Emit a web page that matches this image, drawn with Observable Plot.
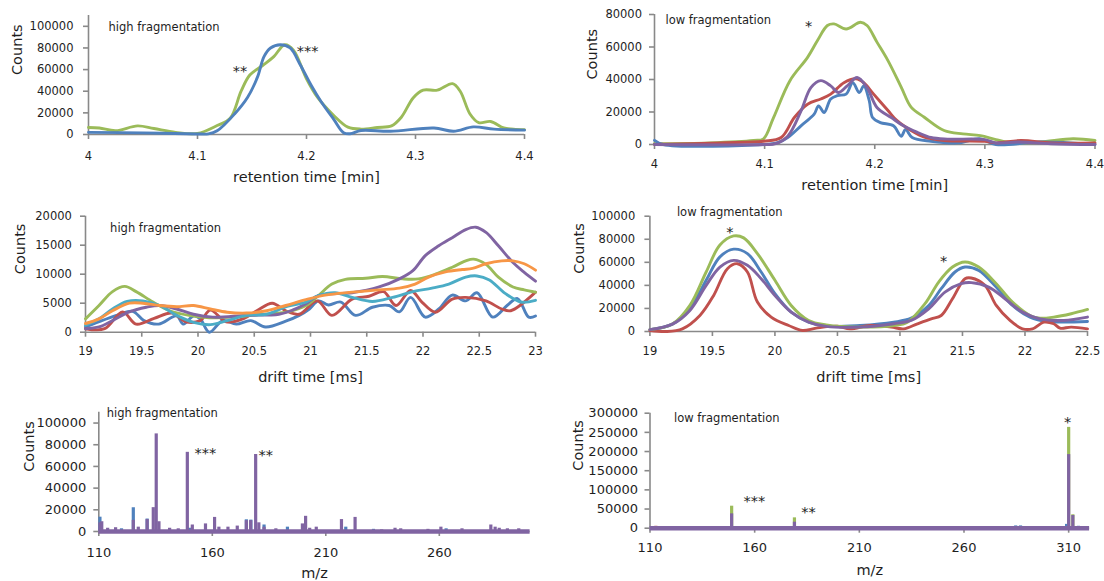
<!DOCTYPE html>
<html><head><meta charset="utf-8">
<script src="https://cdn.jsdelivr.net/npm/d3@7"></script>
<script src="https://cdn.jsdelivr.net/npm/@observablehq/plot@0.6"></script>
<style>
html,body{margin:0;padding:0;background:#fff;}
#root{position:relative;width:1104px;height:581px;overflow:hidden;font-family:"DejaVu Sans",Verdana,sans-serif;}
</style></head><body><div id="root"></div>
<script>
// ---------- data: retention time, high fragmentation ----------
const rtHighGreen = [[4.000,6500],[4.010,6000],[4.025,3500],[4.045,8000],[4.060,5500],[4.080,2000],[4.100,1000],[4.118,8300],[4.130,15000],[4.140,40000],[4.148,55000],[4.160,64000],[4.170,72000],[4.180,83000],[4.188,78000],[4.200,51500],[4.210,34500],[4.225,17600],[4.238,6800],[4.250,5000],[4.265,6500],[4.278,8000],[4.287,16000],[4.298,34000],[4.307,41000],[4.320,41000],[4.334,47000],[4.341,40000],[4.350,19000],[4.358,11000],[4.369,12000],[4.381,6000],[4.390,5000],[4.400,4500]];
const rtHighBlue = [[4.000,2000],[4.050,1500],[4.100,500],[4.110,600],[4.118,3400],[4.134,19000],[4.146,34500],[4.155,53000],[4.161,72000],[4.167,80000],[4.176,83000],[4.185,80000],[4.194,65000],[4.204,46000],[4.213,31000],[4.225,14000],[4.234,1700],[4.240,700],[4.250,3700],[4.277,3000],[4.317,6000],[4.335,3000],[4.353,7000],[4.372,5000],[4.400,4000]];
// ---------- data: retention time, low fragmentation ----------
const rtLowGreen = [[4.000,500],[4.050,1000],[4.090,2500],[4.099,3500],[4.108,16400],[4.123,39300],[4.139,53600],[4.148,64000],[4.157,73200],[4.163,74200],[4.174,71100],[4.187,75200],[4.193,73200],[4.202,63000],[4.212,51600],[4.224,35300],[4.233,23000],[4.245,16800],[4.263,8600],[4.280,6500],[4.296,5500],[4.310,3000],[4.325,1000],[4.350,1500],[4.380,3500],[4.400,2500]];
const rtLowBlue = [[4.000,2600],[4.008,0],[4.100,0],[4.112,1200],[4.121,4300],[4.133,11500],[4.145,18700],[4.149,23800],[4.154,19700],[4.160,28000],[4.166,30100],[4.174,31000],[4.180,38000],[4.186,32000],[4.190,36100],[4.195,27000],[4.198,16600],[4.205,13500],[4.217,11500],[4.224,5100],[4.228,9200],[4.234,4300],[4.251,2000],[4.276,1000],[4.295,3500],[4.310,0],[4.350,1500],[4.400,0]];
const rtLowRed = [[4.000,0],[4.060,1000],[4.099,2000],[4.115,4300],[4.127,16600],[4.139,24800],[4.151,28000],[4.160,31000],[4.172,38000],[4.183,40400],[4.190,38000],[4.199,31000],[4.212,20900],[4.220,14800],[4.233,8600],[4.245,4500],[4.263,2500],[4.300,2000],[4.310,1000],[4.333,2500],[4.360,1000],[4.400,1000]];
const rtLowPurple = [[4.000,0],[4.100,0],[4.110,500],[4.121,5100],[4.133,20500],[4.142,35000],[4.151,39300],[4.160,36100],[4.167,32000],[4.175,36100],[4.184,41200],[4.193,35000],[4.202,22800],[4.215,16600],[4.226,11500],[4.239,7400],[4.251,4300],[4.266,3300],[4.300,3000],[4.310,1000],[4.330,1500],[4.360,500],[4.400,0]];
// ---------- data: drift time, high fragmentation ----------
const dtHighBlue = [[19.00,900],[19.29,3000],[19.42,3600],[19.52,2000],[19.65,1400],[19.81,2800],[19.87,1400],[19.96,2800],[20.02,2300],[20.10,0],[20.22,2000],[20.34,1400],[20.47,2000],[20.60,900],[20.78,1900],[20.90,2900],[20.99,4000],[21.07,5400],[21.16,4700],[21.27,5200],[21.40,2900],[21.55,4300],[21.70,4600],[21.79,3500],[21.89,6000],[22.02,2600],[22.14,4000],[22.26,6400],[22.38,5400],[22.48,6800],[22.62,2600],[22.75,4650],[22.84,5800],[22.94,2600],[23.00,2800]];
const dtHighRed = [[19.00,600],[19.17,600],[19.33,3500],[19.45,1400],[19.61,2400],[19.77,3300],[19.89,1800],[20.02,2000],[20.11,3800],[20.25,1800],[20.41,2400],[20.53,3800],[20.66,5000],[20.78,3700],[20.90,3100],[21.06,5400],[21.19,2900],[21.37,5700],[21.52,6200],[21.65,7000],[21.76,4600],[21.89,7200],[21.99,5200],[22.11,3450],[22.26,5700],[22.38,6000],[22.56,5400],[22.70,4000],[22.78,3700],[23.00,6900]];
const dtHighGreen = [[19.00,2300],[19.12,4600],[19.24,7000],[19.35,7900],[19.45,7000],[19.60,5200],[19.75,3700],[19.92,2900],[20.10,2500],[20.30,2600],[20.52,3000],[20.78,3450],[20.96,4600],[21.07,6300],[21.19,8300],[21.31,9100],[21.49,9300],[21.64,9600],[21.82,9200],[21.96,9200],[22.11,10000],[22.26,11200],[22.38,12300],[22.45,12600],[22.56,11700],[22.67,9500],[22.80,7800],[22.90,7300],[23.00,6900]];
const dtHighPurple = [[19.00,600],[19.12,900],[19.24,2000],[19.39,3500],[19.54,4300],[19.66,4600],[19.81,4000],[19.96,3100],[20.13,2600],[20.43,2900],[20.72,3100],[20.84,3800],[20.96,4900],[21.07,6300],[21.37,6800],[21.61,7800],[21.79,9200],[21.91,10600],[22.02,13200],[22.14,14900],[22.26,16300],[22.38,17700],[22.47,18100],[22.56,17200],[22.67,14900],[22.80,12000],[22.90,10300],[23.00,8800]];
const dtHighTeal = [[19.00,1200],[19.12,2300],[19.24,4000],[19.37,5300],[19.51,5400],[19.66,4600],[19.81,2900],[19.96,1700],[20.11,1300],[20.26,2000],[20.43,2900],[20.61,3100],[20.80,4500],[20.96,5200],[21.07,6300],[21.22,6800],[21.37,6000],[21.55,5300],[21.73,6000],[21.91,7000],[22.08,7600],[22.23,8300],[22.38,9500],[22.48,9700],[22.59,9000],[22.73,6700],[22.87,5200],[23.00,5500]];
const dtHighOrange = [[19.00,1500],[19.12,2300],[19.24,3700],[19.39,5000],[19.51,5000],[19.66,4600],[19.81,4400],[19.96,4600],[20.11,4000],[20.26,3450],[20.43,3300],[20.61,3700],[20.78,4600],[20.96,5600],[21.13,6400],[21.37,6900],[21.61,7300],[21.79,7600],[21.93,8300],[22.05,9500],[22.20,10400],[22.35,10800],[22.44,11000],[22.56,11800],[22.70,12300],[22.80,12300],[22.90,11800],[23.00,10700]];
// ---------- data: drift time, low fragmentation ----------
const dtLowBlue = [[19.00,1600],[19.18,6400],[19.32,19700],[19.45,44400],[19.56,64700],[19.67,71400],[19.78,67600],[19.89,51600],[20.00,32800],[20.13,16800],[20.27,8100],[20.41,4600],[20.68,5200],[20.95,8100],[21.09,11600],[21.23,22600],[21.33,37100],[21.44,51600],[21.52,55900],[21.63,53000],[21.77,38500],[21.90,22600],[22.04,12500],[22.18,8700],[22.50,8700]];
const dtLowRed = [[19.00,900],[19.13,0],[19.26,2300],[19.40,13900],[19.51,31300],[19.62,54500],[19.70,58800],[19.78,51600],[19.86,25500],[19.97,12500],[20.11,5200],[20.22,900],[20.33,2900],[20.50,4600],[20.60,2300],[20.76,5200],[20.93,3800],[21.03,2300],[21.14,6700],[21.25,11000],[21.33,13900],[21.42,28400],[21.52,45800],[21.57,46400],[21.68,40000],[21.77,22600],[21.88,9600],[21.98,2300],[22.06,2300],[22.15,8100],[22.23,6700],[22.28,2900],[22.37,3800],[22.50,2300]];
const dtLowGreen = [[19.00,1600],[19.18,6400],[19.32,22600],[19.45,51600],[19.56,75000],[19.67,82900],[19.75,81200],[19.86,67600],[20.00,44400],[20.13,22600],[20.27,9600],[20.41,5800],[20.68,3800],[20.95,5200],[21.06,8100],[21.20,24100],[21.31,42900],[21.42,55900],[21.52,60300],[21.63,55900],[21.77,41500],[21.90,25500],[22.04,13900],[22.12,11600],[22.23,12500],[22.37,15400],[22.50,19100]];
const dtLowPurple = [[19.00,1600],[19.18,6400],[19.32,18300],[19.45,40000],[19.56,55900],[19.67,61700],[19.78,57400],[19.89,45800],[20.00,31300],[20.13,16800],[20.27,8100],[20.41,4400],[20.68,3800],[20.95,6700],[21.09,9600],[21.23,19700],[21.36,34200],[21.49,41500],[21.57,42400],[21.71,38500],[21.84,28400],[21.98,16800],[22.12,11000],[22.31,9600],[22.50,12500]];
// ---------- data: mass spectra (m/z, counts) ----------
const msHighBlue = [[110.5,13200],[120.0,2500],[125.2,21900],[131.3,11500],[150.0,3000],[175.0,10800],[177.0,10500],[182.8,6000],[193.1,4000],[218.8,4000],[231.0,2000],[263.0,2500]];
const msHighPurple = [[110.5,8000],[111.3,9000],[113.9,3000],[117.4,3500],[125.2,10300],[127.4,4000],[131.3,11000],[134.0,22000],[135.3,90000],[136.5,9000],[141.2,3000],[145.0,2500],[149.0,73000],[151.2,6000],[157.0,7000],[161.0,13000],[162.9,4000],[166.9,4000],[171.0,5000],[175.0,10000],[176.9,10000],[179.1,71000],[180.5,8000],[182.8,4000],[188.0,2500],[199.7,7000],[201.1,14000],[202.9,3000],[205.8,4000],[216.9,11000],[222.9,13000],[234.6,1500],[240.5,3000],[243.0,2500],[255.0,2000],[260.7,4000],[270.0,2500],[282.7,6000],[284.6,4000],[286.4,3000],[290.0,2500],[295.0,2500]];
const msLowGreen = [[149.0,57400],[179.0,27000],[310.0,263000],[312.0,35000]];
const msLowRed = [[112.8,5000],[219.0,4000],[243.0,3000],[309.0,8000]];
const msLowBlue = [[263.0,3000],[284.7,6000],[287.0,6000],[309.0,10000],[314.7,5000]];
const msLowPurple = [[149.0,37400],[150.0,3000],[179.0,15700],[310.0,192000],[312.0,33000]];
// ---------- labels ----------
const rtTicks = [4, 4.1, 4.2, 4.3, 4.4];
const dtHighTicks = [19, 19.5, 20, 20.5, 21, 21.5, 22, 22.5, 23];
const dtLowTicks = [19, 19.5, 20, 20.5, 21, 21.5, 22, 22.5];
const mzHighTicks = [110, 160, 210, 260];
const mzLowTicks = [110, 160, 210, 260, 310];
const noteHigh = "high fragmentation", noteLow = "low fragmentation";

const AXIS = "#898989", INK = "#1e1e1e";
const C = {blue:"#4f81bd", red:"#c0504d", green:"#9bbb59", purple:"#8064a2", teal:"#4bacc6", orange:"#f79646"};

const ln = (data, color) => Plot.line(data, {x: d => d[0], y: d => d[1], stroke: color, strokeWidth: 2.9, curve: "catmull-rom", strokeLinejoin: "round"});
const sp = (data, color) => Plot.ruleX(data, {x: d => d[0], y1: 0, y2: d => d[1], stroke: color, strokeWidth: 3.2});
const star = (t, x, y) => Plot.text([t], {x: () => x, y: () => y, text: d => d, fontSize: 14.5, fill: INK, dy: 4});

function chart(p) {
  const marks = [
    Plot.ruleX([p.xDomain[0]], {stroke: AXIS, strokeWidth: 1.6}),
    Plot.ruleY([0], {stroke: AXIS, strokeWidth: 1.6}),
    Plot.axisX({ticks: p.xTicks, tickSize: 5, tickPadding: p.xPad, stroke: AXIS, strokeWidth: 1.6, fill: INK, fontSize: p.tickFont, tickFormat: d => String(d), label: null}),
    Plot.axisY({ticks: p.yTicks, tickSize: 5, tickPadding: p.yPad, stroke: AXIS, strokeWidth: 1.6, fill: INK, fontSize: p.tickFont, tickFormat: d => String(d), label: null}),
    ...p.marks,
    Plot.text([p.xTitle], {text: d => d, frameAnchor: "bottom", lineAnchor: "middle", dy: p.xTitleDy, fontSize: 14.5, fill: INK}),
    Plot.text(["Counts"], {text: d => d, frameAnchor: "left", lineAnchor: "middle", dx: p.yTitleDx, rotate: -90, fontSize: 14.5, fill: INK}),
    Plot.text([p.note], {text: d => d, frameAnchor: "top-left", lineAnchor: "middle", textAnchor: "start", dx: p.noteDx, dy: p.noteDy, fontSize: 11.5, fill: INK})
  ];
  const svg = Plot.plot({
    width: p.w, height: p.h,
    marginLeft: p.fx0 - p.left, marginRight: p.left + p.w - p.fx1,
    marginTop: p.fy0 - p.top, marginBottom: p.top + p.h - p.fy1,
    x: {domain: p.xDomain}, y: {domain: p.yDomain},
    style: {fontFamily: "'DejaVu Sans', Verdana, sans-serif", background: "transparent", overflow: "visible", color: INK},
    marks
  });
  svg.style.position = "absolute";
  svg.style.left = p.left + "px";
  svg.style.top = p.top + "px";
  document.getElementById("root").appendChild(svg);
}

chart({left: 0, top: 0, w: 550, h: 195, fx0: 88, fx1: 524, fy0: 15, fy1: 134,
  xDomain: [4, 4.4], yDomain: [0, 110000], xTicks: rtTicks, yTicks: d3.range(0, 100001, 20000),
  tickFont: 11.5, xPad: 12, yPad: 10, xTitle: "retention time [min]", xTitleDy: 43, yTitleDx: -71,
  note: noteHigh, noteDx: 20, noteDy: 12,
  marks: [ln(rtHighGreen, C.green), ln(rtHighBlue, C.blue), star("**", 4.139, 62000), star("***", 4.201, 80500)]});

chart({left: 560, top: 0, w: 544, h: 195, fx0: 654, fx1: 1094.5, fy0: 14, fy1: 144,
  xDomain: [4, 4.4], yDomain: [0, 80000], xTicks: rtTicks, yTicks: d3.range(0, 80001, 20000),
  tickFont: 11.5, xPad: 10, yPad: 7.5, xTitle: "retention time [min]", xTitleDy: 41, yTitleDx: -62,
  note: noteLow, noteDx: 11, noteDy: 6,
  marks: [ln(rtLowGreen, C.green), ln(rtLowBlue, C.blue), ln(rtLowRed, C.red), ln(rtLowPurple, C.purple), star("*", 4.14, 75300)]});

chart({left: 0, top: 195, w: 560, h: 190, fx0: 85, fx1: 535, fy0: 215.7, fy1: 331.7,
  xDomain: [19, 23], yDomain: [0, 20000], xTicks: dtHighTicks, yTicks: d3.range(0, 20001, 5000),
  tickFont: 11.5, xPad: 10, yPad: 8.6, xTitle: "drift time [ms]", xTitleDy: 45, yTitleDx: -65,
  note: noteHigh, noteDx: 24.6, noteDy: 12.3,
  marks: [ln(dtHighBlue, C.blue), ln(dtHighRed, C.red), ln(dtHighGreen, C.green), ln(dtHighPurple, C.purple), ln(dtHighTeal, C.teal), ln(dtHighOrange, C.orange)]});

chart({left: 560, top: 195, w: 544, h: 190, fx0: 649.4, fx1: 1087, fy0: 215.7, fy1: 331,
  xDomain: [19, 22.5], yDomain: [0, 100000], xTicks: dtLowTicks, yTicks: d3.range(0, 100001, 20000),
  tickFont: 11.5, xPad: 10, yPad: 9.7, xTitle: "drift time [ms]", xTitleDy: 46, yTitleDx: -71,
  note: noteLow, noteDx: 27, noteDy: -3.7,
  marks: [ln(dtLowBlue, C.blue), ln(dtLowRed, C.red), ln(dtLowGreen, C.green), ln(dtLowPurple, C.purple), star("*", 19.64, 89300), star("*", 21.35, 64400)]});

chart({left: 0, top: 385, w: 560, h: 196, fx0: 98.3, fx1: 529.6, fy0: 411.7, fy1: 531,
  xDomain: [110, 300], yDomain: [0, 110000], xTicks: mzHighTicks, yTicks: d3.range(0, 100001, 20000),
  tickFont: 13, xPad: 11, yPad: 7.6, xTitle: "m/z", xTitleDy: 42, yTitleDx: -69.7,
  note: noteHigh, noteDx: 8, noteDy: 1.6,
  marks: [sp(msHighBlue, C.blue), sp(msHighPurple, C.purple), Plot.ruleY([0], {stroke: C.purple, strokeWidth: 4.5}),
    star("***", 157, 75700), star("**", 183.5, 74100)]});

chart({left: 560, top: 385, w: 544, h: 196, fx0: 649.5, fx1: 1089.1, fy0: 412.7, fy1: 527.7,
  xDomain: [110, 320], yDomain: [0, 300000], xTicks: mzLowTicks, yTicks: d3.range(0, 300001, 50000),
  tickFont: 13, xPad: 9.5, yPad: 7, xTitle: "m/z", xTitleDy: 42, yTitleDx: -72,
  note: noteLow, noteDx: 24, noteDy: 5,
  marks: [sp(msLowGreen, C.green), sp(msLowRed, C.red), sp(msLowBlue, C.blue), sp(msLowPurple, C.purple), Plot.ruleY([0], {stroke: C.purple, strokeWidth: 4.5}),
    star("*", 309.5, 286000), star("***", 159.9, 80000), star("**", 185.7, 51400)]});
</script>
</body></html>
